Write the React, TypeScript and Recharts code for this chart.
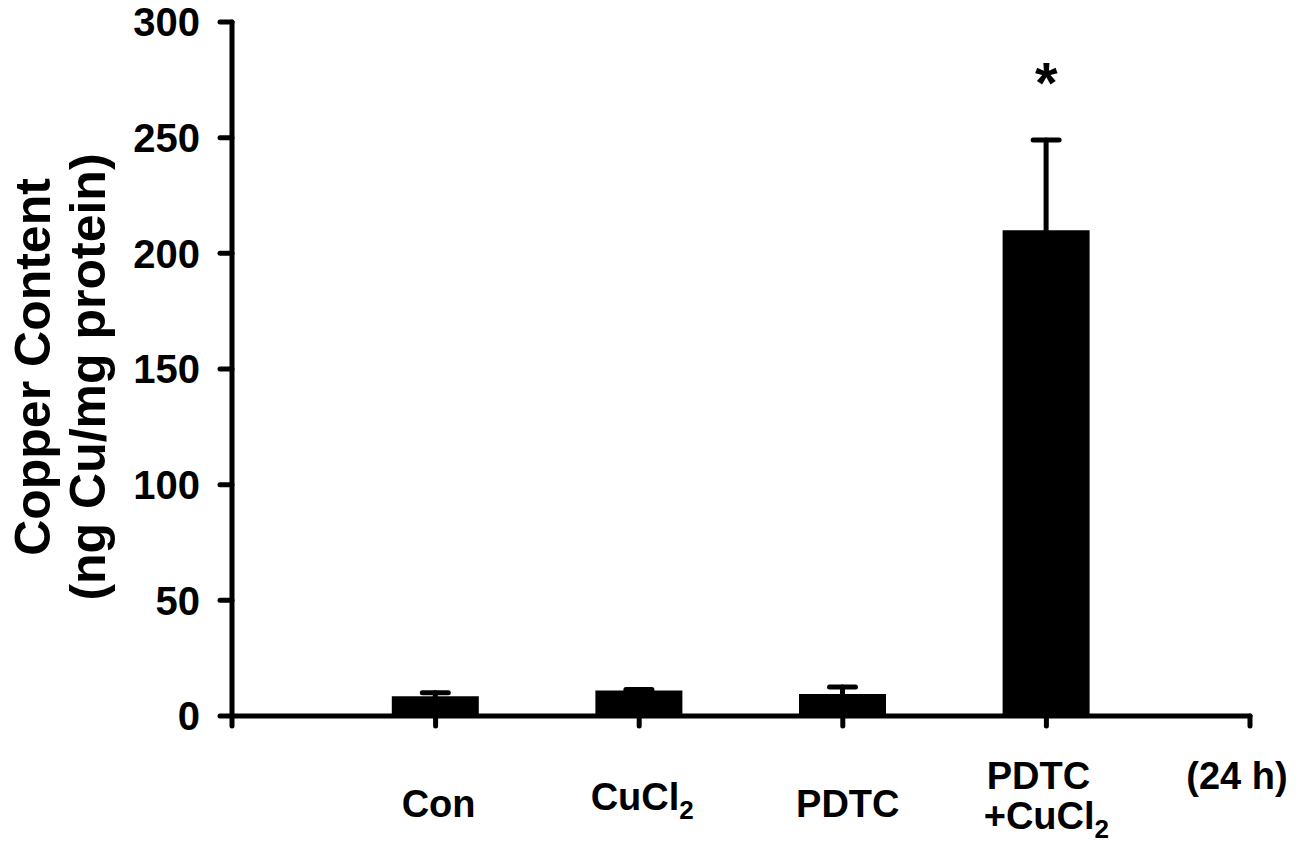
import React from 'react';
import { ComposedChart, Bar, XAxis, YAxis, ErrorBar, Scatter, Label } from 'recharts';

// group labels, bar positions on the x scale, means and upper error
const groups = ['Con', 'CuCl2', 'PDTC', 'PDTC+CuCl2'];
const groupPos = [1, 2, 3, 4];
const copper = [8.5, 11, 9.5, 210];
const copperErr = [1.5, 0.5, 3, 39];

// significance marker (*) above PDTC+CuCl2
const sigPos = [4];
const sigLevel = [279];

const xTicks = [0, 1, 2, 3, 4, 5];
const yTicks = [0, 50, 100, 150, 200, 250, 300];
const timeLabel = '(24 h)';

const data = groups.map((g, i) => ({ group: g, pos: groupPos[i], copper: copper[i], err: copperErr[i] }));
const sigData = sigPos.map((p, i) => ({ pos: p, level: sigLevel[i] }));

const FONT = '"Liberation Sans", Arial, sans-serif';
const TICK_FS = 38;

// where each x tick label sits relative to its tick
const tickLayout: Record<number, { dx: number[]; dy: number[] }> = {
  1: { dx: [3], dy: [97] },
  2: { dx: [3], dy: [90] },
  3: { dx: [5], dy: [97] },
  4: { dx: [-8, 0], dy: [69, 109] },
  5: { dx: [-13], dy: [69] },
};

// split "Cl2" so the 2 becomes a subscript
const chem = (s: string) => {
  const m = s.match(/^(.*Cl)2$/);
  if (!m) return s;
  return [
    <tspan key="a">{m[1]}</tspan>,
    <tspan key="b" fontSize={26} dy={9}>2</tspan>,
  ];
};

const XTick = (props: any) => {
  const { x, y, payload } = props;
  const i = payload.value;
  const t = tickLayout[i];
  if (!t) return null;
  let label: string[];
  if (i === 5) label = [timeLabel];
  else if (groups[i - 1].includes('+')) {
    const [a, b] = groups[i - 1].split('+');
    label = [a, '+' + b];
  } else label = [groups[i - 1]];
  return (
    <g>
      {label.map((ln, k) => (
        <text key={k} x={x + t.dx[k]} y={y - 8 + t.dy[k]} textAnchor="middle" fontFamily={FONT}
          fontWeight="bold" fontSize={TICK_FS} fill="#000">
          {chem(ln)}
        </text>
      ))}
    </g>
  );
};

const YTitle = (props: any) => {
  const vb = props.viewBox || {};
  const cy = vb.y + vb.height / 2;
  return (
    <g fontFamily={FONT} fontWeight="bold" fontSize={50} fill="#000">
      <text x={50} y={cy - 2} transform={`rotate(-90, 50, ${cy - 2})`} textAnchor="middle">Copper Content</text>
      <text x={105} y={cy + 8} transform={`rotate(-90, 105, ${cy + 8})`} textAnchor="middle">(ng Cu/mg protein)</text>
    </g>
  );
};

const Star = (props: any) => {
  const { cx, cy } = props;
  return (
    <text x={cx} y={cy + 32} textAnchor="middle" fontFamily={FONT} fontWeight="bold" fontSize={58} fill="#000">*</text>
  );
};

const line = { stroke: '#000', strokeWidth: 5, strokeLinecap: 'round' as const };

export default function App() {
  return (
    <div style={{ position: 'absolute', left: 0, top: 0, background: '#fff' }}>
      <ComposedChart width={1310} height={846} data={data} margin={{ top: 22, right: 60, bottom: 0, left: 0 }}>
        <XAxis
          dataKey="pos"
          type="number"
          domain={[0, 5]}
          ticks={xTicks}
          height={130}
          axisLine={line}
          tickLine={line}
          tickSize={10}
          tick={<XTick />}
          interval={0}
        />
        <YAxis
          type="number"
          domain={[0, 300]}
          ticks={yTicks}
          width={232}
          axisLine={line}
          tickLine={line}
          tickSize={12}
          tickMargin={20}
          tick={{ fontFamily: FONT, fontWeight: 'bold', fontSize: 40, fill: '#000' }}
          interval={0}
        >
          <Label content={<YTitle />} />
        </YAxis>
        <Bar dataKey="copper" fill="#000" barSize={87} isAnimationActive={false}>
          <ErrorBar dataKey="err" direction="y" width={13} stroke="#000" strokeWidth={5} strokeLinecap="round" />
        </Bar>
        <Scatter data={sigData} dataKey="level" shape={<Star />} isAnimationActive={false} />
      </ComposedChart>
    </div>
  );
}
